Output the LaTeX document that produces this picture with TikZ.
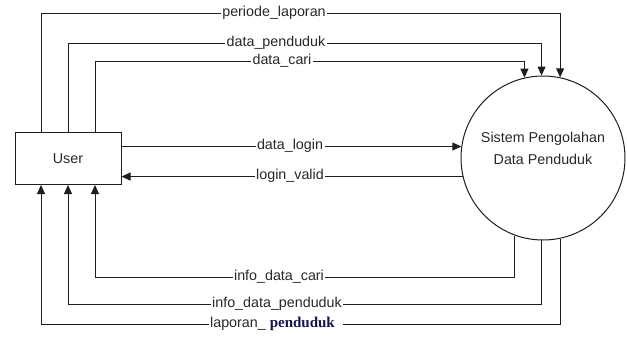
\documentclass[tikz,border=0pt]{standalone}
\usepackage{fontspec}
\setmainfont{Liberation Sans}
\newfontfamily\serifpart{Liberation Serif}
\usetikzlibrary{arrows.meta}
\definecolor{ink}{RGB}{30,30,30}
\definecolor{txt}{RGB}{40,40,40}
\definecolor{navy}{RGB}{20,20,75}
\tikzset{
  flow/.style={draw=ink, line width=1pt},
  arr/.style={flow, -{Triangle[length=9pt,width=8pt]}},
  lbl/.style={fill=white, inner xsep=1.5pt, inner ysep=0.5pt, text=txt, font=\fontsize{14.3}{16}\selectfont},
  entity/.style={draw=ink, line width=1pt, rectangle, minimum width=106pt, minimum height=52pt, text=txt, font=\fontsize{14.3}{16}\selectfont},
  proc/.style={draw=ink, line width=1pt, circle, minimum size=164pt, inner sep=0pt, text=txt, align=center, font=\fontsize{14.3}{22}\selectfont}
}
\begin{document}
\begin{tikzpicture}[x=1pt,y=-1pt]
\useasboundingbox (0,0) rectangle (627,338);
\node[entity] (user) at (68,158.5) {User};
\node[proc] (sys) at (543,158) {Sistem Pengolahan\\Data Penduduk\\[-3pt]\mbox{}};
% top flows
\coordinate (t1) at (41,13);
\coordinate (t2) at (68,43);
\coordinate (t3) at (95,61);
\draw[arr] (user.north -| t1) -- (t1) -| (sys.78);
\draw[arr] (user.north -| t2) -- (t2) -| (sys.91);
\draw[arr] (user.north -| t3) -- (t3) -| (sys.103);
% middle flows
\draw[arr] (user.east |- sys.172) -- (sys.172);
\draw[arr] (sys.193) -- (user.east |- sys.193);
% bottom flows
\coordinate (b1) at (95,277);
\coordinate (b2) at (68,304);
\coordinate (b3) at (41,324);
\draw[arr] (sys.250) |- (b1) -- (user.south -| b1);
\draw[arr] (sys.269) |- (b2) -- (user.south -| b2);
\draw[arr] (sys.282) |- (b3) -- (user.south -| b3);
% labels
\node[lbl] (l1) at (274,13) {periode\_laporan};
\node[lbl] (l2) at (276,43) {data\_penduduk};
\node[lbl] (l3) at (282,61) {data\_cari};
\node[lbl] (l4) at (290,146) {data\_login};
\node[lbl] (l5) at (290,176) {login\_valid};
\node[lbl] (l6) at (279,277) {info\_data\_cari};
\node[lbl] (l7) at (277,304) {info\_data\_penduduk};
\node[lbl] (l8) at (276,324) {laporan\_ {\serifpart\bfseries\fontsize{15}{16}\selectfont\color{navy}penduduk}\hspace*{7pt}};
\end{tikzpicture}
\end{document}
